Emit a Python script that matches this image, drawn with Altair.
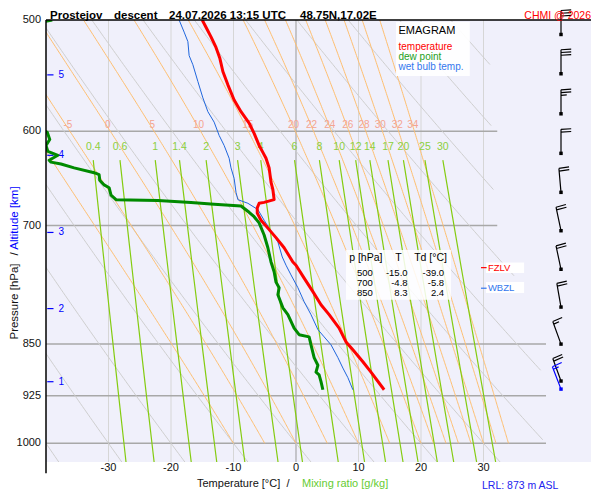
import numpy as np
import pandas as pd
import altair as alt

FONT = "Liberation Sans"

# ---- sounding (p in hPa, values in degC)
temp_p = [500, 506, 514, 523, 532, 544, 556, 570, 581, 592, 602, 614, 621, 627, 637, 652, 660, 671, 674, 675,
          680, 686, 694, 703, 714, 726, 743, 747, 763, 780, 797, 810, 828, 847, 858, 875, 890, 916]
temp_t = [-15.0, -14.4, -13.6, -12.8, -12.2, -11.7, -10.9, -9.9, -8.8, -7.5, -6.7, -5.9, -5.3, -4.8, -4.3, -4.0,
          -3.7, -3.5, -5.1, -5.9, -6.2, -6.2, -5.6, -4.5, -3.2, -1.9, -0.5, 0.0, 1.3, 2.7, 4.0, 5.3, 6.9, 8.0,
          9.1, 10.7, 12.0, 14.1]

dew_p = [500, 502, 597, 601, 608, 614, 620, 624, 629, 631, 633, 637, 642, 644, 650, 655, 658, 666, 671, 672,
         674, 676, 678, 685, 690, 697, 711, 726, 743, 755, 768, 775, 784, 801, 810, 828, 837, 840, 851, 869,
         880, 890, 894, 904, 916]
dew_t = [-39.0, -41.0, -41.0, -39.8, -39.4, -40.0, -39.7, -38.1, -39.5, -39.2, -37.6, -35.5, -32.3, -31.5, -31.4,
         -30.7, -29.9, -29.6, -28.8, -22.1, -16.8, -13.1, -8.8, -7.5, -6.7, -5.9, -5.1, -4.5, -4.0, -3.5, -3.2,
         -2.7, -2.9, -2.1, -1.3, -0.3, 0.5, 2.1, 2.4, 2.9, 3.5, 3.2, 3.7, 4.0, 4.3]

wb_p = [500, 510, 518, 530, 538, 553, 568, 581, 591, 604, 614, 627, 637, 648, 663, 671, 675, 682, 694, 703,
        719, 737, 747, 759, 775, 793, 810, 830, 840, 851, 869, 884, 898, 916]
wb_t = [-18.7, -17.9, -17.3, -17.1, -16.5, -15.7, -14.9, -14.1, -13.1, -12.3, -11.5, -10.7, -10.4, -9.9, -9.6,
        -9.3, -7.7, -6.1, -5.1, -4.3, -2.9, -2.2, -1.6, -0.8, 0.3, 1.3, 2.4, 3.5, 4.5, 5.6, 6.7, 7.5, 8.3, 9.1]

# wind barbs
wind_p = [512, 546, 583, 622, 663, 706, 752, 800, 850, 903, 915]
wind_kt = [30, 30, 25, 20, 20, 20, 20, 20, 15, 20, 15]
wind_dir = [360, 360, 360, 360, 355, 348, 348, 350, 340, 340, 339]
wind_col = ["black"] * 10 + ["blue"]

# table
tab_lvl = ["500", "700", "850"]
tab_t = ["-15.0", "-4.8", "8.3"]
tab_td = ["-39.0", "-5.8", "2.4"]

# axes and background isopleths
p_ticks = [500, 600, 700, 850, 925, 1000]
t_ticks = [-30, -20, -10, 0, 10, 20, 30]
grid_p = [600, 700, 850, 925, 1000]
grid_end = [32.2, 32.2, 40, 40, 40]
dry_theta = list(range(-40, 101, 10))
dry_cut_p = [500, 660, 886, 1031]
dry_cut_t = [31.0, 31.7, 39.2, 40.0]
moist_tw = [-10, -5, 0, 5, 10, 15, 20, 22, 24, 26, 28, 30, 32, 34]
moist_lbl = ["-5", "0", "5", "10", "15", "20", "22", "24", "26", "28", "30", "32", "34"]
moist_lbl_t = [-36.5, -30.1, -23.0, -15.6, -7.7, -0.4, 2.5, 5.4, 8.3, 10.9, 13.5, 16.2, 18.7]
mix_w = [0.4, 0.6, 1, 1.4, 2, 3, 4, 6, 8, 10, 12, 14, 17, 20, 25, 30]
mix_lbl = ["0.4", "0.6", "1", "1.4", "2", "3", "4", "6", "8", "10", "12", "14", "17", "20", "25", "30"]

alt_km = ["5", "4", "3", "2", "1"]
alt_p = [547, 624, 708, 802, 904]

XS = alt.Scale(domain=[-40, 47.2], nice=False, zero=False)
YS = alt.Scale(type="log", domain=[500, 1031], reverse=True, nice=False)


def dewpoint(e):
    a = np.log(e / 6.112)
    return 243.5 * a / (17.67 - a)


def moist_rate(T, p):
    tc = T - 273.15
    es = 6.112 * np.exp(17.67 * tc / (tc + 243.5))
    rs = 0.622 * es / (p - es)
    return (287.04 * T + 2.501e6 * rs) / (p * (1005.7 + 2.501e6 ** 2 * rs * 0.622 / (287.04 * T ** 2)))


# dry adiabats
rows = []
pp = np.geomspace(500, 1031, 160)
tmax = np.interp(pp, dry_cut_p, dry_cut_t)
for th in dry_theta:
    tt = (th + 273.15) * (pp / 1000.0) ** 0.2857 - 273.15
    for i, (p, t) in enumerate(zip(pp, tt)):
        if t <= tmax[i]:
            rows.append({"id": th, "i": i, "p": p, "T": t})
dry_df = pd.DataFrame(rows)

# moist adiabats
rows = []
pm = np.arange(1000.0, 499.0, -2.0)
for tw in moist_tw:
    T = tw + 273.15
    for i, p in enumerate(pm):
        if i > 0:
            dp = p - pm[i - 1]
            k1 = moist_rate(T, pm[i - 1])
            k2 = moist_rate(T + k1 * dp, p)
            T = T + 0.5 * (k1 + k2) * dp
        rows.append({"id": tw, "i": i, "p": p, "T": T - 273.15})
moist_df = pd.DataFrame(rows)

# mixing ratio lines
rows = []
pw = np.geomspace(629, 1031, 40)
for w in mix_w:
    for i, p in enumerate(pw):
        rows.append({"id": w, "i": i, "p": p, "T": dewpoint(w * p / (622.0 + w))})
mix_df = pd.DataFrame(rows)
mix_lbl_df = pd.DataFrame({"txt": mix_lbl, "p": 616.0,
                           "T": [dewpoint(w * 629 / (622.0 + w)) for w in mix_w]})


def enc(xf="T", yf="p"):
    return dict(x=alt.X(f"{xf}:Q", scale=XS, axis=None), y=alt.Y(f"{yf}:Q", scale=YS, axis=None))


def lines(df, color, width):
    return alt.Chart(df).mark_line(color=color, strokeWidth=width, clip=True).encode(
        detail="id:N", order="i:Q", **enc())


def profile(p, t, color, width):
    df = pd.DataFrame({"p": p, "T": t, "i": range(len(p))})
    return alt.Chart(df).mark_line(color=color, strokeWidth=width, clip=True,
                                   strokeJoin="round").encode(order="i:Q", **enc())


def text(df, **kw):
    kw.setdefault("font", FONT)
    return alt.Chart(df).mark_text(**kw).encode(text="txt:N", **enc())


def ptext(txt, px, py, **kw):
    # text outside the plot area, placed in pixels relative to the plot origin
    kw.setdefault("font", FONT)
    return alt.Chart(pd.DataFrame({"txt": [txt]})).mark_text(**kw).encode(
        x=alt.value(px), y=alt.value(py), text="txt:N")


# tick labels
ylab = text(pd.DataFrame({"txt": [str(v) for v in p_ticks], "p": p_ticks, "T": -40.0}),
            fontSize=11, align="right", baseline="middle", dx=-5, color="#111")
xlab = text(pd.DataFrame({"txt": [str(v) for v in t_ticks], "p": 1031.0, "T": t_ticks}),
            fontSize=11, align="center", baseline="middle", dy=6, color="#111")

iso_df = pd.DataFrame({"T": t_ticks, "p0": 500, "p1": 1031,
                       "c": ["#999999" if t == 0 else "#d6d6d6" for t in t_ticks]})
isotherms = alt.Chart(iso_df).mark_rule(strokeWidth=1).encode(
    x=alt.X("T:Q", scale=XS, axis=None), y=alt.Y("p0:Q", scale=YS, axis=None), y2="p1:Q",
    color=alt.Color("c:N", scale=None))

grid_df = pd.DataFrame({"p": grid_p, "T0": -40, "T1": grid_end})
hgrid = alt.Chart(grid_df).mark_rule(color="#a8a8a8", strokeWidth=1.5).encode(
    y=alt.Y("p:Q", scale=YS, axis=None), x=alt.X("T0:Q", scale=XS, axis=None), x2="T1:Q")

frame_df = pd.DataFrame({"p": [500, 500], "p2": [500, 1050], "T": [-40, -40], "T2": [47.2, -40]})
frame = alt.Chart(frame_df).mark_rule(color="black", strokeWidth=1.5).encode(
    x=alt.X("T:Q", scale=XS, axis=None), x2="T2:Q", y=alt.Y("p:Q", scale=YS, axis=None), y2="p2:Q")

moist_lbl_df = pd.DataFrame({"txt": moist_lbl, "T": moist_lbl_t, "p": 594.0})

# altitude marks
alt_df = pd.DataFrame({"txt": alt_km, "p": alt_p, "T": -38.0, "T0": -39.8, "T1": -38.8})
alt_ticks = alt.Chart(alt_df).mark_rule(color="#0000ff", strokeWidth=1.2).encode(
    x=alt.X("T0:Q", scale=XS, axis=None), x2="T1:Q", y=alt.Y("p:Q", scale=YS, axis=None))

# boxes
box_df = pd.DataFrame({"T0": [16.0, 8.0, 30.4, 30.4], "T1": [27.8, 24.8, 36.5, 36.5],
                       "p0": [501.6, 728.6, 743.6, 767.7], "p1": [548.0, 790.6, 756.5, 781.7],
                       "o": [0.92, 0.85, 0.95, 0.95]})
boxes = alt.Chart(box_df).mark_rect(color="white").encode(
    x=alt.X("T0:Q", scale=XS, axis=None), x2="T1:Q", y=alt.Y("p0:Q", scale=YS, axis=None), y2="p1:Q",
    opacity=alt.Opacity("o:Q", scale=None))

legend_df = pd.DataFrame({"txt": ["temperature", "dew point", "wet bulb temp."], "T": 16.4,
                          "p": [522.6, 531.2, 540.0], "c": ["#ff0000", "#22a022", "#3377ee"]})
legend_txt = alt.Chart(legend_df).mark_text(font=FONT, fontSize=10, align="left", baseline="middle").encode(
    text="txt:N", color=alt.Color("c:N", scale=None), **enc())
emagram = text(pd.DataFrame({"txt": ["EMAGRAM"], "T": [16.4], "p": [509.0]}),
               fontSize=11, align="left", baseline="middle", color="black")

row_p = [756.5, 769.0, 781.7]
tab_rows = pd.DataFrame({"txt": tab_lvl + tab_t + tab_td,
                         "T": [12.3] * 3 + [17.85] * 3 + [23.7] * 3,
                         "p": row_p * 3})
table_txt = text(tab_rows, fontSize=9.5, align="right", baseline="middle", color="black")
head_left = text(pd.DataFrame({"txt": ["p [hPa]", "Td [°C]"], "T": [8.5, 18.9], "p": [738.0, 738.0]}),
                 fontSize=10.5, align="left", baseline="middle", color="black")
head_mid = text(pd.DataFrame({"txt": ["T"], "T": [16.4], "p": [738.0]}),
                fontSize=10.5, align="center", baseline="middle", color="black")

lvl_df = pd.DataFrame({"txt": ["FZLV", "WBZL"], "T": 30.7, "T0": 29.6, "T1": 30.5, "p": [750.0, 775.7],
                       "c": ["#ff0000", "#3377ee"]})
lvl_ticks = alt.Chart(lvl_df).mark_rule(strokeWidth=1.2).encode(
    x=alt.X("T0:Q", scale=XS, axis=None), x2="T1:Q", y=alt.Y("p:Q", scale=YS, axis=None),
    color=alt.Color("c:N", scale=None))
lvl_txt = alt.Chart(lvl_df).mark_text(font=FONT, fontSize=9.5, align="left", baseline="middle").encode(
    text="txt:N", color=alt.Color("c:N", scale=None), **enc())


# wind barbs
def barb_path(spd):
    n_full, rem = divmod(int(spd), 10)
    parts = ["M0,0L0,-2"]
    y = -2.0
    for _ in range(n_full):
        parts.append(f"M0,{y:.2f}L0.85,{y - 0.05:.2f}")
        y += 0.23
    if rem >= 5:
        parts.append(f"M0,{y:.2f}L0.48,{y - 0.03:.2f}")
    return "".join(parts)


BARB_T = 42.4
wind_df = pd.DataFrame({"p": wind_p, "T": BARB_T, "dir": wind_dir, "c": wind_col,
                        "path": [barb_path(s) for s in wind_kt]})
barbs = alt.Chart(wind_df).mark_point(filled=False, opacity=1, strokeWidth=1.2, size=576).encode(
    shape=alt.Shape("path:N", scale=None), angle=alt.Angle("dir:Q", scale=None),
    color=alt.Color("c:N", scale=None), **enc())
barb_dots = alt.Chart(wind_df).mark_square(size=12, opacity=1).encode(
    color=alt.Color("c:N", scale=None), **enc())

bold = dict(fontSize=11.5, fontWeight="bold", align="left", baseline="alphabetic", color="black")
outside = [
    ptext("Prostejov", 4, -1.5, **bold),
    ptext("descent", 68, -1.5, **bold),
    ptext("24.07.2026 13:15 UTC", 123, -1.5, **bold),
    ptext("48.75N,17.02E", 254, -1.5, **bold),
    ptext("CHMI @ 2026", 545, -1.5, fontSize=10.5, align="right", baseline="alphabetic", color="#ff0000"),
    ptext("Pressure [hPa]", -31.5, 281.5, fontSize=11.5, angle=270, align="center", baseline="middle",
          color="#111"),
    ptext("/", -31.5, 234, fontSize=11.5, angle=270, align="center", baseline="middle", color="#111"),
    ptext("Altitude [km]", -31.5, 198, fontSize=11.5, angle=270, align="center", baseline="middle",
          color="#0000ff"),
    ptext("Temperature [°C]", 151, 464, fontSize=11, align="left", baseline="middle", color="#111"),
    ptext("/", 242, 464, fontSize=11, align="center", baseline="middle", color="#111"),
    ptext("Mixing ratio [g/kg]", 256, 464, fontSize=11, align="left", baseline="middle", color="#66cc33"),
    ptext("LRL: 873 m ASL", 436, 465.5, fontSize=10.5, align="left", baseline="middle", color="#2222ee"),
]

chart = alt.layer(
    isotherms,
    hgrid,
    lines(dry_df, "#cfcfcf", 1),
    lines(moist_df, "#ffbf70", 1),
    lines(mix_df, "#84cc10", 1.2),
    text(moist_lbl_df, fontSize=10, align="center", baseline="middle", color="#f4a491"),
    text(mix_lbl_df, fontSize=10.5, align="center", baseline="middle", color="#8ccf3c"),
    alt_ticks,
    text(alt_df, fontSize=10, align="left", baseline="middle", color="#0000ff"),
    boxes,
    emagram,
    legend_txt,
    table_txt,
    head_left,
    head_mid,
    lvl_ticks,
    lvl_txt,
    profile(wb_p, wb_t, "#1f66dd", 1),
    profile(dew_p, dew_t, "#008a00", 3),
    profile(temp_p, temp_t, "#ff0000", 3),
    barbs,
    barb_dots,
    frame,
    ylab,
    xlab,
    *outside,
).properties(
    width=545,
    height=442,
    autosize=alt.AutoSizeParams(type="none"),
    padding={"left": 38, "top": 12, "right": 1, "bottom": 30},
    background="white",
).configure_view(strokeWidth=0, fill="#f0f0fb")

chart.save("out.html", embed_options={"renderer": "svg", "actions": False})
